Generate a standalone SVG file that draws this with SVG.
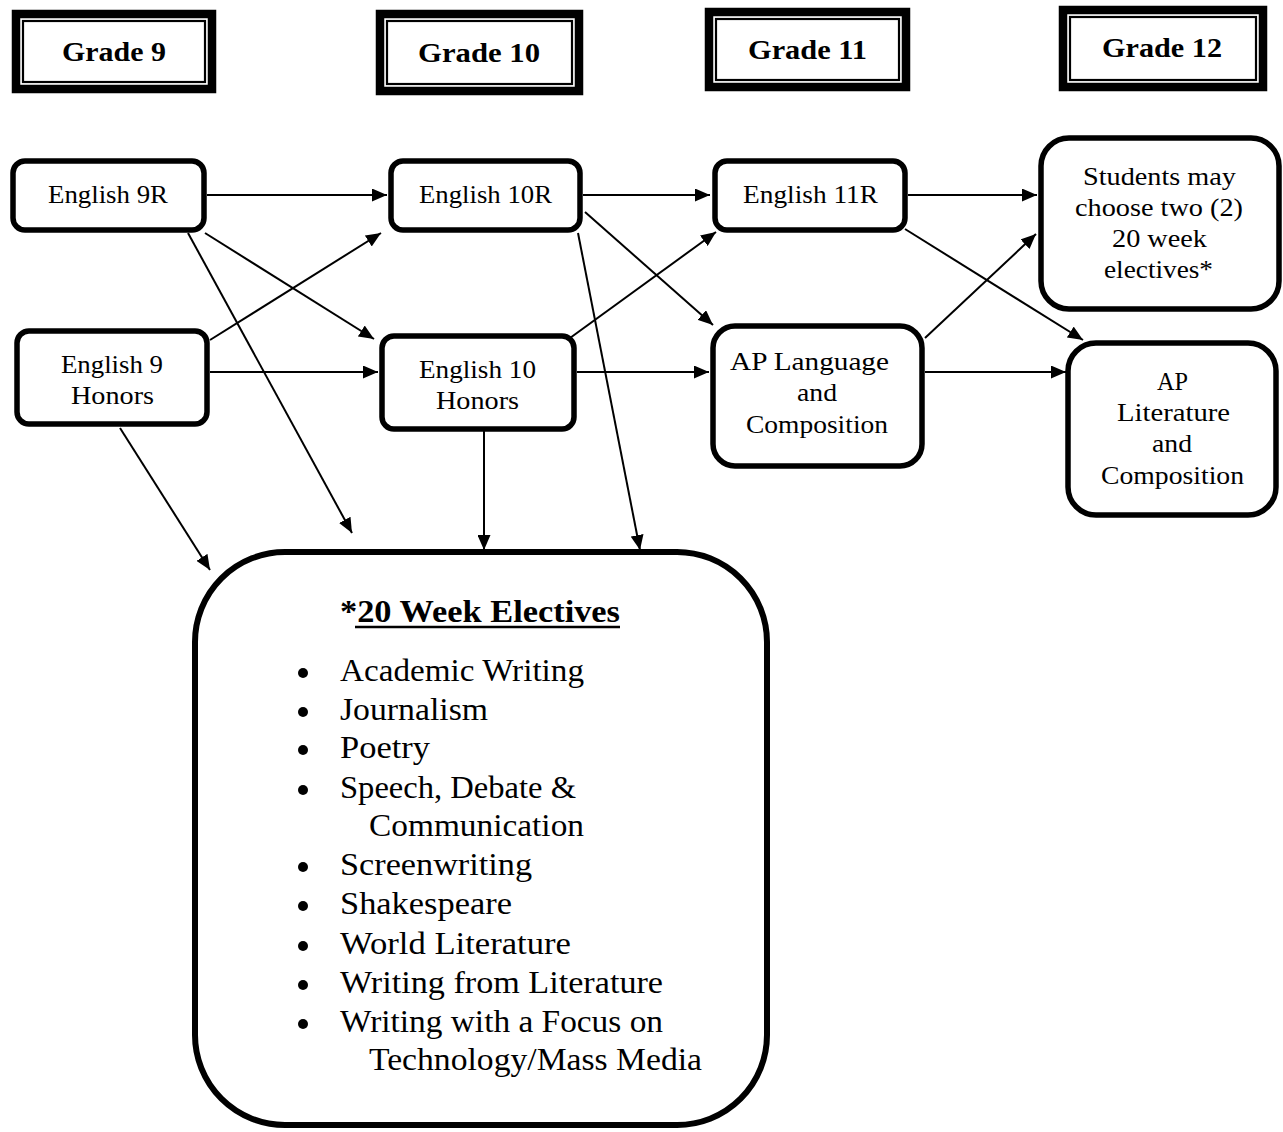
<svg xmlns="http://www.w3.org/2000/svg" width="1283" height="1132" viewBox="0 0 1283 1132">
<defs>
<marker id="ah" markerUnits="userSpaceOnUse" markerWidth="16" markerHeight="13" refX="15" refY="6.5" orient="auto">
<path d="M0,0 L15,6.5 L0,13 z" fill="#000"/>
</marker>
<style>
.go{fill:#fff;stroke:#000;stroke-width:8.5}
.gi{fill:none;stroke:#000;stroke-width:2.2}
.gt{font-family:"Liberation Serif",serif;font-weight:bold;font-size:28px;fill:#000}
.nd{fill:#fff;stroke:#000;stroke-width:5.5}
.t{font-family:"Liberation Serif",serif;font-size:26px;fill:#000}
.li{font-family:"Liberation Serif",serif;font-size:31px;fill:#000}
.cn line{stroke:#000;stroke-width:2;marker-end:url(#ah)}
</style>
</defs>
<rect width="1283" height="1132" fill="#fff"/>

<g id="grade9">
<rect class="go" x="16" y="14" width="196" height="75"/>
<rect class="gi" x="23" y="21" width="182" height="61"/>
<text class="gt" x="62" y="61" textLength="104" lengthAdjust="spacingAndGlyphs">Grade 9</text>
</g>
<g id="grade10">
<rect class="go" x="380" y="14" width="199" height="77"/>
<rect class="gi" x="387" y="21" width="185" height="63"/>
<text class="gt" x="418" y="62" textLength="122" lengthAdjust="spacingAndGlyphs">Grade 10</text>
</g>
<g id="grade11">
<rect class="go" x="709" y="12" width="197" height="75"/>
<rect class="gi" x="716" y="19" width="183" height="61"/>
<text class="gt" x="748" y="59" textLength="119" lengthAdjust="spacingAndGlyphs">Grade 11</text>
</g>
<g id="grade12">
<rect class="go" x="1063" y="10" width="200" height="77"/>
<rect class="gi" x="1070" y="17" width="186" height="63"/>
<text class="gt" x="1102" y="57" textLength="120" lengthAdjust="spacingAndGlyphs">Grade 12</text>
</g>

<g class="cn" id="connectors">
<line x1="207" y1="195" x2="387" y2="195"/>
<line x1="205" y1="233" x2="374" y2="339"/>
<line x1="188" y1="233" x2="352" y2="533"/>
<line x1="210" y1="340" x2="381" y2="233"/>
<line x1="210" y1="372" x2="378" y2="372"/>
<line x1="120" y1="428" x2="210" y2="570"/>
<line x1="583" y1="195" x2="710" y2="195"/>
<line x1="585" y1="212" x2="713" y2="325"/>
<line x1="578" y1="233" x2="640" y2="550"/>
<line x1="570" y1="338" x2="716" y2="232"/>
<line x1="577" y1="372" x2="709" y2="372"/>
<line x1="484" y1="428" x2="484" y2="550"/>
<line x1="908" y1="195" x2="1037" y2="195"/>
<line x1="905" y1="229" x2="1083" y2="340"/>
<line x1="925" y1="338" x2="1036" y2="234"/>
<line x1="925" y1="372" x2="1066" y2="372"/>
</g>

<g id="english9r">
<rect class="nd" x="13" y="161" width="191" height="69" rx="12"/>
<text class="t" x="48" y="203" textLength="120" lengthAdjust="spacingAndGlyphs">English 9R</text>
</g>
<g id="english9h">
<rect class="nd" x="17" y="331" width="190" height="93" rx="12"/>
<text class="t" x="61" y="373" textLength="102" lengthAdjust="spacingAndGlyphs">English 9</text>
<text class="t" x="71" y="404" textLength="83" lengthAdjust="spacingAndGlyphs">Honors</text>
</g>
<g id="english10r">
<rect class="nd" x="391" y="161" width="189" height="69" rx="12"/>
<text class="t" x="419" y="203" textLength="133" lengthAdjust="spacingAndGlyphs">English 10R</text>
</g>
<g id="english10h">
<rect class="nd" x="382" y="336" width="192" height="93" rx="12"/>
<text class="t" x="419" y="378" textLength="117" lengthAdjust="spacingAndGlyphs">English 10</text>
<text class="t" x="436" y="409" textLength="83" lengthAdjust="spacingAndGlyphs">Honors</text>
</g>
<g id="english11r">
<rect class="nd" x="715" y="161" width="190" height="69" rx="12"/>
<text class="t" x="743" y="203" textLength="135" lengthAdjust="spacingAndGlyphs">English 11R</text>
</g>
<g id="aplang">
<rect class="nd" x="713" y="326" width="209" height="140" rx="22"/>
<text class="t" x="730" y="370" textLength="159" lengthAdjust="spacingAndGlyphs">AP Language</text>
<text class="t" x="797" y="401" textLength="40" lengthAdjust="spacingAndGlyphs">and</text>
<text class="t" x="746" y="433" textLength="142" lengthAdjust="spacingAndGlyphs">Composition</text>
</g>
<g id="students">
<rect class="nd" x="1041" y="138" width="238" height="171" rx="28"/>
<text class="t" x="1083" y="185" textLength="153" lengthAdjust="spacingAndGlyphs">Students may</text>
<text class="t" x="1075" y="216" textLength="168" lengthAdjust="spacingAndGlyphs">choose two (2)</text>
<text class="t" x="1112" y="247" textLength="95" lengthAdjust="spacingAndGlyphs">20 week</text>
<text class="t" x="1104" y="278" textLength="109" lengthAdjust="spacingAndGlyphs">electives*</text>
</g>
<g id="aplit">
<rect class="nd" x="1068" y="343" width="208" height="172" rx="28"/>
<text class="t" x="1157" y="390" textLength="31" lengthAdjust="spacingAndGlyphs">AP</text>
<text class="t" x="1117" y="421" textLength="113" lengthAdjust="spacingAndGlyphs">Literature</text>
<text class="t" x="1152" y="452" textLength="40" lengthAdjust="spacingAndGlyphs">and</text>
<text class="t" x="1101" y="484" textLength="143" lengthAdjust="spacingAndGlyphs">Composition</text>
</g>
<g id="electives">
<rect class="nd" x="195" y="552" width="572" height="573" rx="90" style="stroke-width:6"/>
<text class="li" x="340" y="622" font-weight="bold" textLength="280" lengthAdjust="spacingAndGlyphs">*20 Week Electives</text>
<line x1="355" y1="627" x2="620" y2="627" stroke="#000" stroke-width="2.5"/>
<g fill="#000">
<circle cx="303" cy="673" r="5"/>
<circle cx="303" cy="712" r="5"/>
<circle cx="303" cy="750" r="5"/>
<circle cx="303" cy="790" r="5"/>
<circle cx="303" cy="867" r="5"/>
<circle cx="303" cy="906" r="5"/>
<circle cx="303" cy="946" r="5"/>
<circle cx="303" cy="985" r="5"/>
<circle cx="303" cy="1024" r="5"/>
</g>
<text class="li" x="340" y="681" textLength="244" lengthAdjust="spacingAndGlyphs">Academic Writing</text>
<text class="li" x="340" y="720" textLength="148" lengthAdjust="spacingAndGlyphs">Journalism</text>
<text class="li" x="340" y="758" textLength="90" lengthAdjust="spacingAndGlyphs">Poetry</text>
<text class="li" x="340" y="798" textLength="236" lengthAdjust="spacingAndGlyphs">Speech, Debate &amp;</text>
<text class="li" x="369" y="836" textLength="215" lengthAdjust="spacingAndGlyphs">Communication</text>
<text class="li" x="340" y="875" textLength="192" lengthAdjust="spacingAndGlyphs">Screenwriting</text>
<text class="li" x="340" y="914" textLength="172" lengthAdjust="spacingAndGlyphs">Shakespeare</text>
<text class="li" x="340" y="954" textLength="231" lengthAdjust="spacingAndGlyphs">World Literature</text>
<text class="li" x="340" y="993" textLength="323" lengthAdjust="spacingAndGlyphs">Writing from Literature</text>
<text class="li" x="340" y="1032" textLength="323" lengthAdjust="spacingAndGlyphs">Writing with a Focus on</text>
<text class="li" x="369" y="1070" textLength="333" lengthAdjust="spacingAndGlyphs">Technology/Mass Media</text>
</g>
</svg>
